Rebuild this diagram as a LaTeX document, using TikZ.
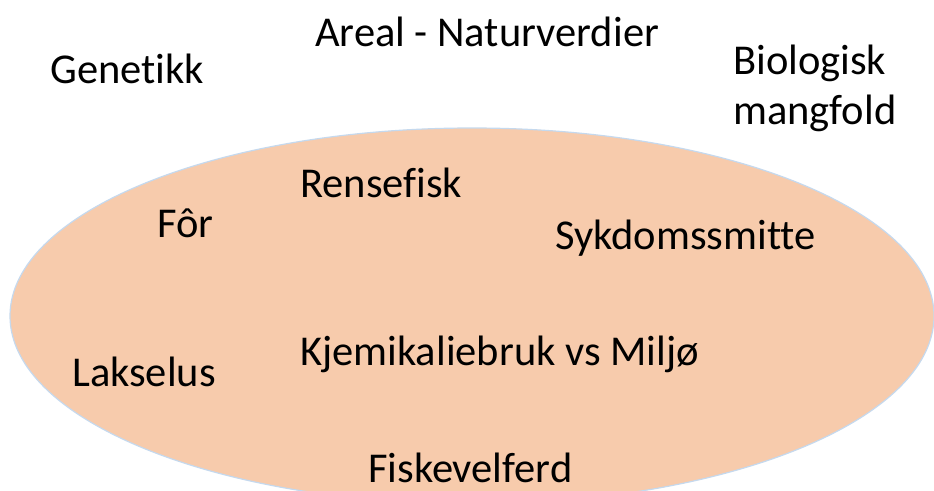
\documentclass[tikz,border=0pt]{standalone}
\usepackage{fontspec}
\setmainfont{Carlito}[Ligatures={NoCommon}]
\usepackage{tikz}
\usetikzlibrary{positioning}
\definecolor{peach}{HTML}{F7CBAC}
\definecolor{rimblue}{HTML}{C5D9EE}

\begin{document}
\begin{tikzpicture}[x=1pt,y=-1pt,
  word/.style={inner sep=0pt,anchor=base west,font=\fontsize{42.5}{50}\selectfont}]
\useasboundingbox (0,0) rectangle (934,490);
\clip (0,0) rectangle (934,490);
\fill[white] (0,0) rectangle (934,490);

\draw[fill=peach,draw=rimblue,line width=1.2pt] (472,316) ellipse [x radius=462, y radius=188];

\node(areal)[word] at (315,46) {Areal - Naturverdier};
\node(gen)[word] at (50,83) {Genetikk};
\node(bio)[word,anchor=north west,align=left] at (733,45) {Biologisk\\mangfold};

\node(rense)[word] at (300,197) {Rensefisk};
\node(for)[word] at (157,237) {Fôr};
\node(syk)[word] at (555,249) {Sykdomssmitte};
\node(kjem)[word] at (300,365) {Kjemikaliebruk vs Miljø};
\node(lus)[word] at (72,386) {Lakselus};
\node(velferd)[word] at (368,482) {Fiskevelferd};
\end{tikzpicture}
\end{document}
